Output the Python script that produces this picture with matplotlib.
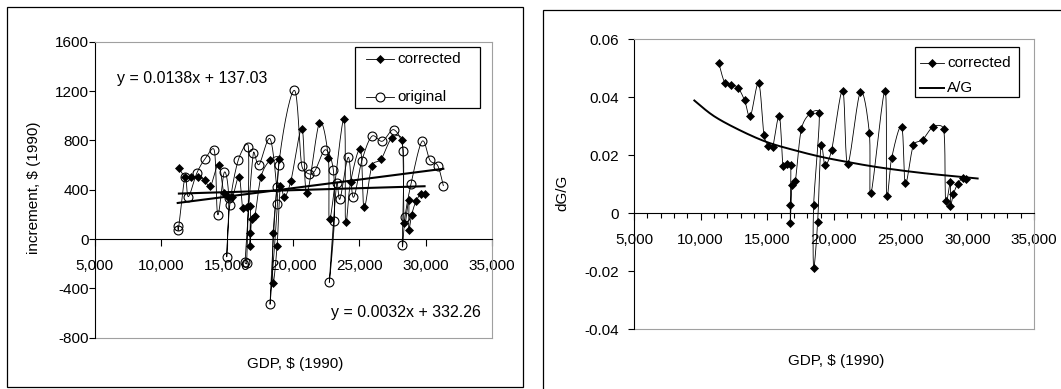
import numpy as np
import matplotlib
matplotlib.use('Agg')
import matplotlib.pyplot as plt
from matplotlib.patches import Rectangle
from matplotlib.lines import Line2D

plt.rcParams['font.family'] = ['Liberation Sans', 'DejaVu Sans']
plt.rcParams['axes.unicode_minus'] = False
FS = 11

# ---------------- data ----------------
# corrected series (time order): GDP, increment, dG/G
gdp_corrected = [11350, 11800, 12300, 12800, 13300, 13725, 14350, 14750, 15075, 15400,
                 15900, 16175, 16475, 16750, 16725, 16725, 16850, 17100, 17550, 18225,
                 18900, 18475, 18475, 18775, 19025, 19325, 19825, 20650, 21025, 21975,
                 22650, 22775, 23825, 23950, 24325, 25075, 25350, 25950, 26650, 27450,
                 28225, 28375, 28725, 28725, 28950, 29275, 29650, 29925]
inc_corrected = [577, 506, 501, 506, 480, 426, 604, 371, 344, 339,
                 506, 251, 257, 271, 46, -54, 163, 190, 501, 637,
                 650, 46, -353, -54, 433, 338, 474, 894, 371, 940,
                 659, 163, 976, 135, 460, 726, 257, 596, 650, 821,
                 805, 127, 317, 73, 198, 306, 366, 366]
dgg_corrected = [0.0520, 0.0451, 0.0442, 0.0433, 0.0389, 0.0335, 0.0449, 0.0269, 0.0233, 0.0229,
                 0.0335, 0.0163, 0.0171, 0.0168, 0.0029, -0.0034, 0.0097, 0.0111, 0.0290, 0.0345,
                 0.0345, 0.0029, -0.0189, -0.0029, 0.0234, 0.0166, 0.0219, 0.0423, 0.0171, 0.0417,
                 0.0278, 0.0069, 0.0423, 0.0061, 0.0191, 0.0299, 0.0103, 0.0234, 0.0254, 0.0299,
                 0.0289, 0.0043, 0.0109, 0.0025, 0.0066, 0.0101, 0.0122, 0.0117]

# original series (time order)
gdp_original = [11262, 11308, 11814, 12064, 12699, 13326, 14030, 14286, 14785, 15120,
                14967, 15200, 15844, 16600, 16479, 16350, 16978, 17409, 18240, 18747,
                18800, 18240, 18900, 20077, 20637, 21189, 21642, 22430, 23025, 23100,
                22724, 23281, 23532, 24160, 24537, 25172, 25928, 26730, 27615, 28318,
                28243, 28446, 28900, 29730, 30336, 30918, 31342]
inc_original = [108, 73, 506, 344, 533, 650, 718, 198, 542, 330,
                -144, 279, 642, 750, -198, -190, 696, 604, 813, 420,
                285, -528, 601, 1206, 596, 528, 555, 724, 561, 143,
                -347, 452, 325, 663, 338, 631, 832, 793, 886, 712,
                -46, 181, 447, 792, 637, 596, 433]

# linear trendlines (slope, intercept)
trend_original = (0.0138, 137.03)
trend_corrected = (0.0032, 332.26)
trend_labels = ['y = 0.0138x + 137.03', 'y = 0.0032x + 332.26']

# A/G curve
ag_gdp = [9525, 11000, 13000, 15000, 17000, 19000, 21000, 23000, 25000, 27000, 29000, 30775]
ag_val = [0.0389, 0.0335, 0.0285, 0.0245, 0.0218, 0.0195, 0.0177, 0.0161, 0.0148, 0.0137, 0.0128, 0.0120]

x_ticks = [5000, 10000, 15000, 20000, 25000, 30000, 35000]
x_ticklabels = ['5,000', '10,000', '15,000', '20,000', '25,000', '30,000', '35,000']
y1_ticks = [-800, -400, 0, 400, 800, 1200, 1600]
y1_ticklabels = ['-800', '-400', '0', '400', '800', '1200', '1600']
y2_ticks = [-0.04, -0.02, 0, 0.02, 0.04, 0.06]
y2_ticklabels = ['-0.04', '-0.02', '0', '0.02', '0.04', '0.06']

# ---------------- helpers ----------------
W, H = 1061, 389


def fx(x):
    return x / W


def fy(y):
    return 1 - y / H


def smooth(x, y, kx, ky, n=16):
    """Excel-like smoothed line (Bezier through points), computed in pixel space."""
    P = np.column_stack([np.asarray(x, float) * kx, np.asarray(y, float) * ky])
    ext = np.vstack([P[0], P, P[-1]])
    t = np.linspace(0, 1, n + 1)[1:][:, None]
    out = [P[0]]
    for i in range(len(P) - 1):
        p0, p1, p2, p3 = ext[i], ext[i + 1], ext[i + 2], ext[i + 3]
        d = np.hypot(*(p2 - p1))
        t1 = (p2 - p0) / 6
        t2 = (p3 - p1) / 6
        for tv in (t1, t2):
            L = np.hypot(*tv)
            if L > 0.5 * d and L > 0:
                tv *= 0.5 * d / L
        c1 = p1 + t1
        c2 = p2 - t2
        b = (1 - t) ** 3 * p1 + 3 * (1 - t) ** 2 * t * c1 + 3 * (1 - t) * t ** 2 * c2 + t ** 3 * p2
        out.extend(b)
    out = np.array(out)
    return out[:, 0] / kx, out[:, 1] / ky


GRAY = '#a0a0a0'
DMS = 3.7     # diamond marker size
OMS = 6.4     # circle marker size


def style_axes(ax, yticks, ylabels, ypad):
    ax.set_xlim(5000, 35000)
    ax.spines['bottom'].set_position(('data', 0))
    ax.spines['bottom'].set_color('black')
    ax.spines['bottom'].set_linewidth(0.8)
    ax.spines['left'].set_color('black')
    ax.spines['left'].set_linewidth(0.8)
    for s in ('top', 'right'):
        ax.spines[s].set_color(GRAY)
        ax.spines[s].set_linewidth(0.8)
    ax.plot([0, 1], [0, 0], transform=ax.transAxes, color=GRAY, lw=0.8, clip_on=False)
    ax.set_xticks(x_ticks)
    ax.set_xticklabels(x_ticklabels)
    ax.set_yticks(yticks)
    ax.set_yticklabels(ylabels)
    ax.tick_params(axis='x', which='major', direction='out', length=5, width=0.8,
                   pad=9.5, labelsize=FS)
    ax.tick_params(axis='y', which='major', direction='out', length=4, width=0.8,
                   pad=ypad, labelsize=FS)
    ax.set_facecolor('white')


fig = plt.figure(figsize=(W / 100, H / 100), dpi=100)

# panel borders
fig.add_artist(Rectangle((fx(6.8), fy(386.7)), fx(523) - fx(6.8), fy(7.3) - fy(386.7),
                         transform=fig.transFigure, fill=False, edgecolor='black', lw=0.9))
fig.add_artist(Rectangle((fx(543), fy(395)), fx(1070) - fx(543), fy(10) - fy(395),
                         transform=fig.transFigure, fill=False, edgecolor='black', lw=0.9,
                         clip_on=False))

# ---------------- left panel ----------------
ax1 = fig.add_axes([fx(94.9), fy(337.7), fx(491.7) - fx(94.9), fy(41.7) - fy(337.7)])
ax1.set_ylim(-800, 1600)
style_axes(ax1, y1_ticks, y1_ticklabels, 0.5)
k1 = (396.8 / 30000, 296.0 / 2400)

sx, sy = smooth(gdp_original, inc_original, *k1)
ax1.plot(sx, sy, color='black', lw=0.6)
ax1.plot(gdp_original, inc_original, ls='none', marker='o', ms=OMS, mfc='none',
         mec='black', mew=0.8)
sx, sy = smooth(gdp_corrected, inc_corrected, *k1)
ax1.plot(sx, sy, color='black', lw=0.6)
ax1.plot(gdp_corrected, inc_corrected, ls='none', marker='D', ms=DMS, mfc='black',
         mec='black', mew=0.5)

for (a, b), xs in ((trend_original, gdp_original), (trend_corrected, gdp_corrected)):
    xx = np.array([min(xs), max(xs)])
    ax1.plot(xx, a * xx + b, color='black', lw=1.5)

fig.text(fx(117), fy(78), trend_labels[0], fontsize=11.5, ha='left', va='center')
fig.text(fx(331), fy(313), trend_labels[1], fontsize=11.5, ha='left', va='center')
fig.text(fx(34), fy(188), 'increment, $ (1990)', fontsize=FS, rotation=90,
         ha='center', va='center')
fig.text(fx(295), fy(364), 'GDP, $ (1990)', fontsize=FS, ha='center', va='center')

# ---------------- right panel ----------------
ax2 = fig.add_axes([fx(634), fy(329.3), fx(1034) - fx(634), fy(39.3) - fy(329.3)])
ax2.set_ylim(-0.04, 0.06)
style_axes(ax2, y2_ticks, y2_ticklabels, 7)
ax2.set_xticks(range(5000, 35001, 1000), minor=True)
ax2.tick_params(axis='x', which='minor', direction='out', length=3.5, width=0.8)
k2 = (400.0 / 30000, 290.0 / 0.1)

sx, sy = smooth(ag_gdp, ag_val, *k2)
ax2.plot(sx, sy, color='black', lw=1.4)
sx, sy = smooth(gdp_corrected, dgg_corrected, *k2)
ax2.plot(sx, sy, color='black', lw=0.6)
ax2.plot(gdp_corrected, dgg_corrected, ls='none', marker='D', ms=DMS, mfc='black',
         mec='black', mew=0.5)

fig.text(fx(562.3), fy(193), 'dG/G', fontsize=FS, rotation=90, ha='center', va='center')
fig.text(fx(835.8), fy(361), 'GDP, $ (1990)', fontsize=FS, ha='center', va='center')


# ---------------- legends (drawn manually) ----------------
def legend_box(box, rows, hx0, hx1, tx):
    x0, y0, x1, y1 = box
    fig.add_artist(Rectangle((fx(x0), fy(y1)), fx(x1) - fx(x0), fy(y0) - fy(y1),
                             transform=fig.transFigure, facecolor='white',
                             edgecolor='black', lw=0.9, zorder=5))
    for y, label, kind in rows:
        if kind == 'diamond':
            fig.add_artist(Line2D([fx(hx0), fx(hx1)], [fy(y), fy(y)], transform=fig.transFigure,
                                  color='black', lw=0.6, zorder=6))
            fig.add_artist(Line2D([fx((hx0 + hx1) / 2)], [fy(y)], transform=fig.transFigure,
                                  ls='none', marker='D', ms=DMS, mfc='black', mec='black',
                                  mew=0.5, zorder=7))
        elif kind == 'circle':
            fig.add_artist(Line2D([fx(hx0), fx(hx1)], [fy(y), fy(y)], transform=fig.transFigure,
                                  color='black', lw=0.6, zorder=6))
            fig.add_artist(Line2D([fx((hx0 + hx1) / 2)], [fy(y)], transform=fig.transFigure,
                                  ls='none', marker='o', ms=OMS, mfc='white', mec='black',
                                  mew=0.8, zorder=7))
        else:
            fig.add_artist(Line2D([fx(hx0), fx(hx1)], [fy(y), fy(y)], transform=fig.transFigure,
                                  color='black', lw=1.4, zorder=6))
        fig.text(fx(tx), fy(y), label, fontsize=FS, ha='left', va='center', zorder=8)


legend_box((355, 46.7, 480, 107.7),
           [(59.3, 'corrected', 'diamond'), (96.7, 'original', 'circle')],
           366, 394, 397)
legend_box((915, 47.3, 1019, 97.3),
           [(62.7, 'corrected', 'diamond'), (87.7, 'A/G', 'line')],
           920, 944, 947)

fig.savefig('out.png', dpi=100)
